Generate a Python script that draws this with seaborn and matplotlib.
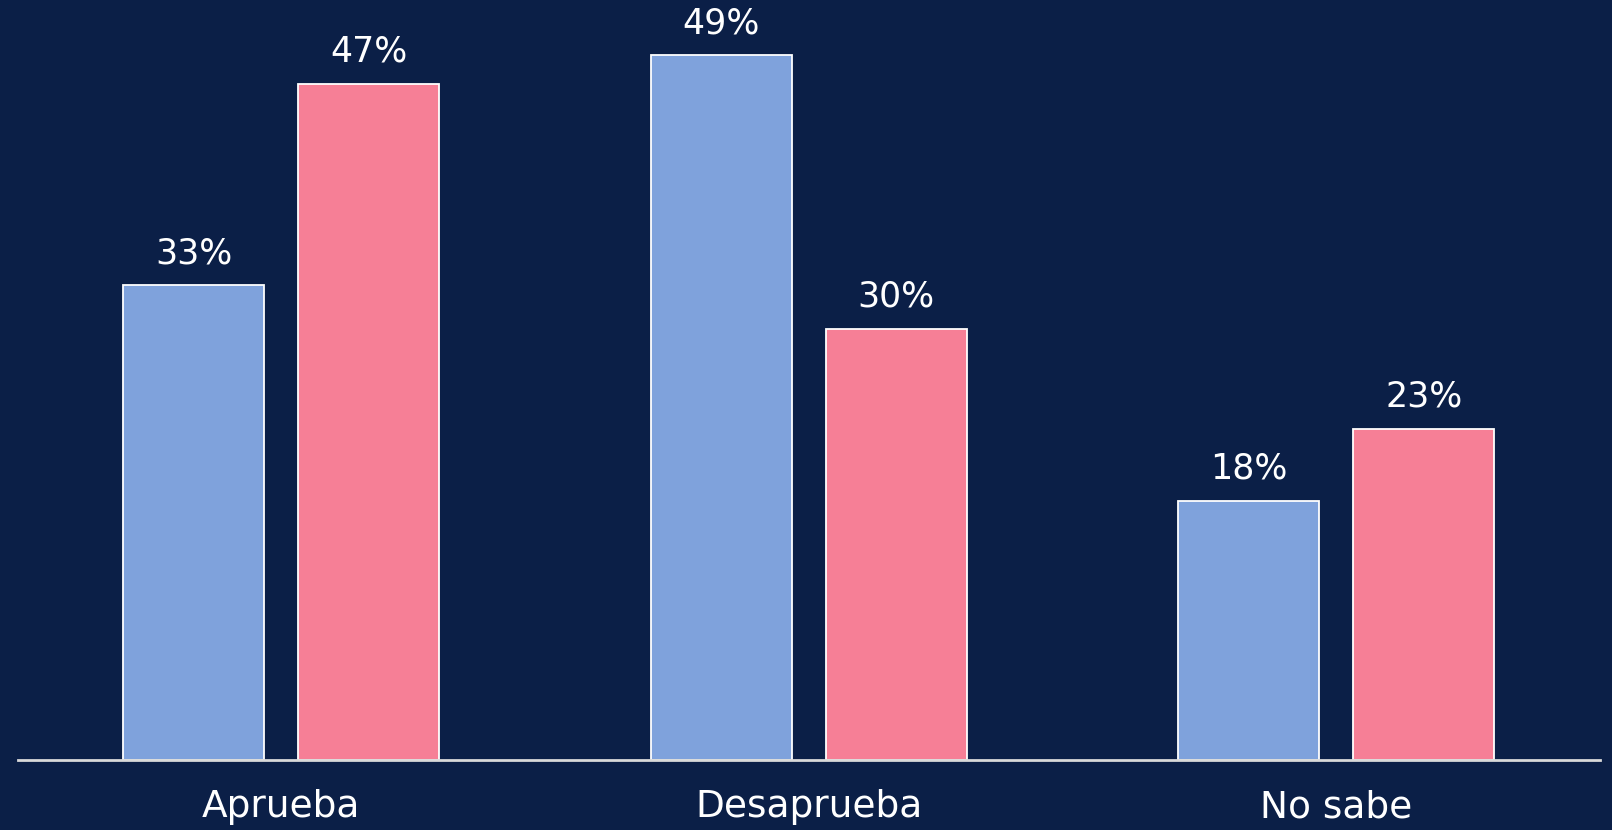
##################################################################################################
#                                  APPROVAL BAR CHART (2 GROUPS)                                 #
##################################################################################################

import pandas as pd
import matplotlib.pyplot as plt
import seaborn as sns

##################################################################################################
#                                            DATA                                                #
##################################################################################################

categories = ["Aprueba", "Desaprueba", "No sabe"]
series_names = ["Grupo A", "Grupo B"]
values_a = [33, 49, 18]
values_b = [47, 30, 23]

BG = "#0B1F47"
COLORS = ["#7FA2DC", "#F67F96"]

df = pd.DataFrame({
    "categoria": categories * 2,
    "grupo": [series_names[0]] * 3 + [series_names[1]] * 3,
    "valor": values_a + values_b,
})

##################################################################################################
#                                            PLOT                                                #
##################################################################################################

sns.set_style("dark")
plt.rcParams["font.family"] = ["DejaVu Sans"]

fig = plt.figure(figsize=(16.12, 8.3), dpi=100, facecolor=BG)
ax = fig.add_axes([17.5 / 1612, 70 / 830, 1582.5 / 1612, 760 / 830])
ax.set_facecolor(BG)

sns.barplot(
    data=df, x="categoria", y="valor", hue="grupo",
    palette=COLORS, saturation=1, width=0.664, gap=0.195,
    edgecolor="white", linewidth=1.3, legend=False, ax=ax,
)

for container in ax.containers:
    ax.bar_label(container, labels=[f"{v:.0f}%" for v in container.datavalues],
                 padding=11, color="white", fontsize=25)

ax.set_xlim(-0.5, 2.5)
ax.set_ylim(0, 52.85)
ax.set_xlabel("")
ax.set_ylabel("")
ax.set_yticks([])
ax.tick_params(axis="x", length=0, pad=21, labelsize=27, colors="white")
ax.grid(False)

for side in ["top", "right", "left"]:
    ax.spines[side].set_visible(False)
ax.spines["bottom"].set_color("#D9D9D9")
ax.spines["bottom"].set_linewidth(2)

fig.savefig("out.png", dpi=100, facecolor=BG)
plt.close(fig)
